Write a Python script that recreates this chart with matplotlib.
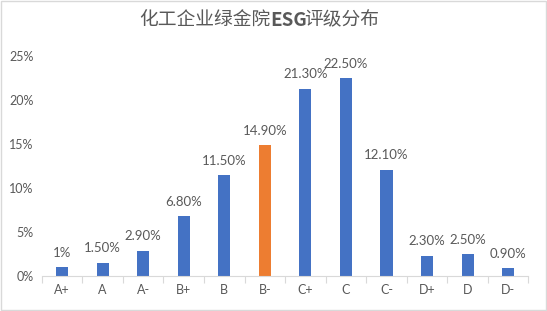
import matplotlib
matplotlib.use("Agg")
import matplotlib.pyplot as plt
from matplotlib.patches import Rectangle
import numpy as np

categories = ["A+", "A", "A-", "B+", "B", "B-", "C+", "C", "C-", "D+", "D", "D-"]
values = [1.0, 1.5, 2.9, 6.8, 11.5, 14.9, 21.3, 22.5, 12.1, 2.3, 2.5, 0.9]
labels = ["1%", "1.50%", "2.90%", "6.80%", "11.50%", "14.90%", "21.30%", "22.50%", "12.10%", "2.30%", "2.50%", "0.90%"]
yticks = [0, 5, 10, 15, 20, 25]
title_parts = ["化工企业绿金院", "ESG", "评级分布"]

blue = "#4472C4"
orange = "#ED7D31"
gray = "#595959"
colors = [orange if c == "B-" else blue for c in categories]

fig = plt.figure(figsize=(5.47, 3.11), dpi=100)
fig.patches.append(Rectangle((0.002, 0.003), 0.996, 0.994, transform=fig.transFigure,
                             fill=False, edgecolor="#D9D9D9", linewidth=1))
ax = fig.add_axes([0.0765, 0.1125, 0.8895, 0.707])
x = np.arange(len(categories))
ax.bar(x, values, width=0.3, color=colors, zorder=2)
ax.set_xlim(-0.5, len(categories) - 0.5)
ax.set_ylim(0, 25)
ax.set_yticks(yticks)
ax.set_yticklabels([f"{t}%" for t in yticks], family=["Lato", "DejaVu Sans"], fontsize=9, color=gray)
ax.set_xticks(x)
ax.set_xticklabels(categories, family=["Lato", "DejaVu Sans"], fontsize=9, color=gray)
ax.tick_params(axis="x", length=0, pad=6)
ax.tick_params(axis="y", length=0, pad=6)
ax.set_xticks(np.arange(-0.5, len(categories) + 0.5, 1), minor=True)
ax.tick_params(axis="x", which="minor", length=5, color="#D9D9D9", width=0.8)
for s in ["top", "right", "left"]:
    ax.spines[s].set_visible(False)
ax.spines["bottom"].set_color("#D9D9D9")
ax.spines["bottom"].set_linewidth(0.8)
for xi, v, lab in zip(x, values, labels):
    ax.annotate(lab, (xi, v), xytext=(0, 6), textcoords="offset points", ha="center", va="bottom",
                fontsize=9.5, color=gray, family=["Lato", "DejaVu Sans"])

# title in three pieces (ESG in bold), centered at x=0.474
fig.canvas.draw()
renderer = fig.canvas.get_renderer()
weights = ["normal", "bold", "normal"]
adjust = [0, -3, 0]
texts = []
for part, w in zip(title_parts, weights):
    t = fig.text(0, 0.935, part, ha="left", va="center", fontsize=13.5, color=gray, weight=w,
                 family=["Noto Sans CJK SC", "DejaVu Sans"])
    texts.append(t)
widths = [t.get_window_extent(renderer).width + a for t, a in zip(texts, adjust)]
total = sum(widths)
start = 0.474 * fig.bbox.width - total / 2
for t, w in zip(texts, widths):
    t.set_x(start / fig.bbox.width)
    start += w
fig.savefig("out.png", dpi=100)
